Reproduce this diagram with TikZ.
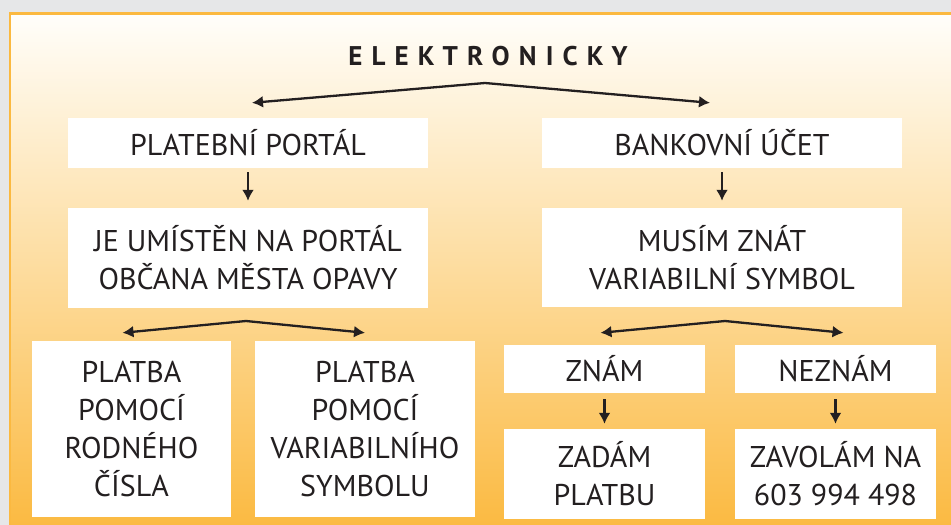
\documentclass[tikz,border=0pt]{standalone}
\usepackage{fontspec}
\setmainfont{PT Sans}
\usetikzlibrary{arrows.meta}
\definecolor{grau}{HTML}{E6E7E8}
\definecolor{rahmen}{HTML}{FBB940}
\definecolor{oben}{HTML}{FFFEFA}
\definecolor{unten}{HTML}{FBBA42}
\definecolor{schrift}{HTML}{231F20}
\tikzset{
  box/.style={fill=white, inner sep=0pt, align=center, text=schrift,
    font=\fontsize{30}{38}\selectfont},
  pfeil/.style={draw=schrift, line width=2.3pt, ->}
}
\begin{document}
\begin{tikzpicture}[x=1pt, y=-1pt, >={Latex[length=11pt,width=12pt]}]

	% Hintergrund
	\fill[grau] (0,0) rectangle (951,525);
	\useasboundingbox (0,0) rectangle (951,525);
	\fill[rahmen] (9,12) rectangle (951,525);
	\shade[top color=oben, bottom color=unten] (11,15) rectangle (951,525);

	% Titel
	\node[text=schrift, font=\fontsize{27}{30}\selectfont\bfseries\addfontfeature{LetterSpace=34}] (titel) at (488,56) {ELEKTRONICKY};
	\coordinate (spitze) at (485,83);

	% linke Seite
	\node[box, minimum width=360pt, minimum height=50pt] (portal) at (248,143) {PLATEBNÍ PORTÁL};
	\node[box, minimum width=360pt, minimum height=100pt] (umisten) at (248,258) {JE UMÍSTĚN NA PORTÁL\\OBČANA MĚSTA OPAVY};
	\node[box, minimum width=199pt, minimum height=176pt] (rodne) at (131.5,429) {PLATBA\\POMOCÍ\\RODNÉHO\\ČÍSLA};
	\node[box, minimum width=220pt, minimum height=176pt] (variab) at (365,429) {PLATBA\\POMOCÍ\\VARIABILNÍHO\\SYMBOLU};
	\coordinate (spitzeL) at (246,321);

	% rechte Seite
	\node[box, minimum width=360pt, minimum height=50pt] (ucet) at (722,143) {BANKOVNÍ ÚČET};
	\node[box, minimum width=360pt, minimum height=99pt] (symbol) at (722,257.5) {MUSÍM ZNÁT\\VARIABILNÍ SYMBOL};
	\node[box, minimum width=201pt, minimum height=48pt] (znam) at (604.5,369) {ZNÁM};
	\node[box, minimum width=201pt, minimum height=48pt] (neznam) at (835.5,369) {NEZNÁM};
	\node[box, minimum width=201pt, minimum height=90pt] (zadam) at (604.5,474) {ZADÁM\\PLATBU};
	\node[box, minimum width=201pt, minimum height=90pt] (zavolam) at (835.5,474) {ZAVOLÁM NA\\603 994 498};
	\coordinate (spitzeR) at (725,321);

	% Pfeile
	\draw[pfeil] (spitze) -- ([xshift=4pt, yshift=15pt]portal.north);
	\draw[pfeil] (spitze) -- ([xshift=-12pt, yshift=15pt]ucet.north);
	\draw[pfeil] ([yshift=-4pt]portal.south) -- ([yshift=7pt]umisten.north);
	\draw[pfeil] ([yshift=-4pt]ucet.south) -- ([yshift=7pt]symbol.north);
	\draw[pfeil] (spitzeL) -- ([xshift=-9pt, yshift=8pt]rodne.north);
	\draw[pfeil] (spitzeL) -- ([yshift=8pt]variab.north);
	\draw[pfeil] (spitzeR) -- ([xshift=-4pt, yshift=12pt]znam.north);
	\draw[pfeil] (spitzeR) -- ([xshift=8pt, yshift=12pt]neznam.north);
	\draw[pfeil] ([yshift=-6pt]znam.south) -- ([yshift=5pt]zadam.north);
	\draw[pfeil] ([yshift=-6pt]neznam.south) -- ([yshift=5pt]zavolam.north);
\end{tikzpicture}
\end{document}
